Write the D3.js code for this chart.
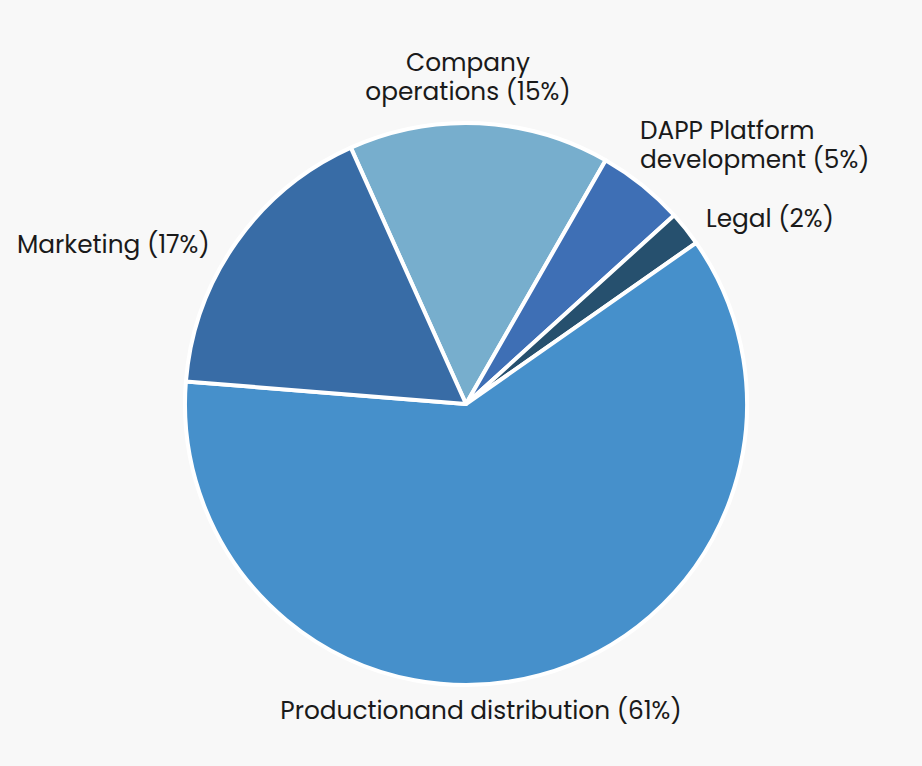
<!DOCTYPE html>
<html><head><meta charset="utf-8">
<script src="https://cdn.jsdelivr.net/npm/d3@7"></script>
<style>html,body{margin:0;padding:0;background:#f8f8f8;}</style>
</head><body>
<script>
const categories = ["Company operations", "DAPP Platform development", "Legal", "Productionand distribution", "Marketing"];
const values = [15, 5, 2, 61, 17];
const colors = ["#77aecd", "#3e6fb5", "#26506e", "#4690cb", "#386ca6"];
const labelLines = [
  ["Company", "operations (15%)"],
  ["DAPP Platform", "development (5%)"],
  ["Legal (2%)"],
  ["Productionand distribution (61%)"],
  ["Marketing (17%)"]
];

const W = 922, H = 766, cx = 466, cy = 404, R = 281;
const svg = d3.select("body").append("svg").attr("width", W).attr("height", H)
  .style("background", "#f8f8f8");

const startA = -24.2 * Math.PI / 180;
const pie = d3.pie().sort(null).value(d => d).startAngle(startA).endAngle(startA + 2 * Math.PI);
const arcs = pie(values);
const arc = d3.arc().innerRadius(0).outerRadius(R);

const g = svg.append("g").attr("transform", `translate(${cx},${cy})`);
g.selectAll("path").data(arcs).enter().append("path")
  .attr("d", arc)
  .attr("fill", (d, i) => colors[i])
  .attr("stroke", "#ffffff")
  .attr("stroke-width", 4)
  .attr("stroke-linejoin", "round");

const labelPos = [
  {x: 468, y: 71, anchor: "middle"},
  {x: 640, y: 139, anchor: "start"},
  {x: 706, y: 227, anchor: "start"},
  {x: 481, y: 719, anchor: "middle"},
  {x: 17, y: 253, anchor: "start"}
];
const lg = svg.append("g")
  .attr("font-family", "Poppins, 'Open Sans', sans-serif")
  .attr("font-size", 24.8)
  .attr("fill", "#1a1a1a");
labelLines.forEach((lines, i) => {
  const p = labelPos[i];
  lines.forEach((s, j) => {
    lg.append("text").attr("x", p.x).attr("y", p.y + j * 29)
      .attr("text-anchor", p.anchor).text(s);
  });
});
</script>
</body></html>
